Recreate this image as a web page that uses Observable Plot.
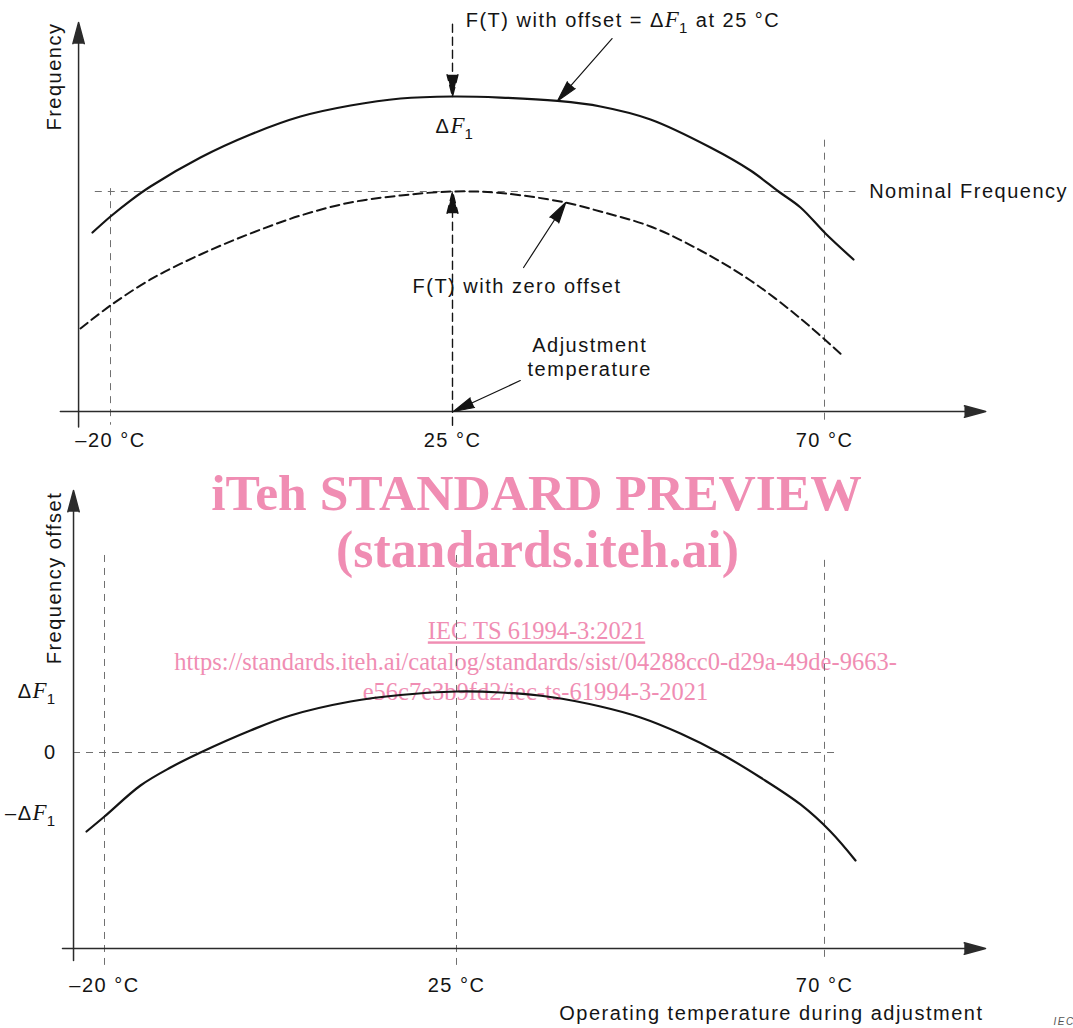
<!DOCTYPE html>
<html><head><meta charset="utf-8">
<script src="https://cdn.jsdelivr.net/npm/d3@7"></script>
<script src="https://cdn.jsdelivr.net/npm/@observablehq/plot@0.6"></script>
<style>
html,body{margin:0;padding:0;background:#fff;}
#chart svg{display:block;}
</style></head><body><div id="chart"></div>
<script>
// ---------------- data ----------------
const tickTemps = [-20, 25, 70];
const tickLabels = ["\u201320 \u00B0C", "25 \u00B0C", "70 \u00B0C"];

// upper panel: frequency relative to nominal, in units of ΔF1
const offsetTemps = [-22.37, -20, -17.37, -14.74, -8.16, -1.58, 5.0, 11.58, 18.16, 25, 30.81, 37.70, 42.90, 48.95, 56.21, 61.05, 64.44, 67.10, 70.12, 73.51];
const offsetFreq  = [-0.432, -0.263, -0.095, 0.053, 0.358, 0.600, 0.789, 0.905, 0.979, 1.0, 0.989, 0.953, 0.895, 0.758, 0.463, 0.221, 0.0, -0.168, -0.442, -0.716];
const zeroTemps   = [-23.95, -20, -14.74, -8.16, -1.58, 5.0, 11.58, 18.16, 25, 30.81, 38.67, 42.90, 48.95, 55.0, 61.05, 67.10, 72.30];
const zeroFreq    = [-1.442, -1.200, -0.926, -0.663, -0.442, -0.253, -0.116, -0.042, 0, -0.016, -0.116, -0.211, -0.368, -0.621, -0.937, -1.337, -1.737];

// lower panel: frequency offset vs operating temperature, in units of ΔF1
const opTemps  = [-22.30, -20, -15.40, -11.56, -7.73, -1.34, 3.78, 11.45, 17.84, 25, 30.38, 36.49, 42.61, 47.50, 52.39, 57.28, 62.17, 67.07, 70.73, 73.79];
const opOffset = [-1.295, -1.049, -0.541, -0.246, 0.0, 0.361, 0.607, 0.836, 0.943, 1.0, 0.984, 0.910, 0.754, 0.574, 0.311, -0.016, -0.410, -0.852, -1.295, -1.770];
const offsetTicks = [-1, 0, 1];
const offsetTickLabels = ["\u2013\u0394F_1", "0", "\u0394F_1"];

// ---------------- styling ----------------
const INK = "#141414";
const AXIS = "#2b2b2b";
const GUIDE = "#707070";
const PINK = "#f08db3";
const SANS = "'Liberation Sans', Arial, Helvetica, sans-serif";
const SERIF = "'Liberation Serif', 'Times New Roman', serif";
const svgStyle = {fontFamily: SANS, fontSize: "20px", letterSpacing: "1.5px", color: INK, background: "white", overflow: "visible"};
const guide = {stroke: GUIDE, strokeWidth: 1, strokeDasharray: "7,6"};
const axisArrow = {x1: "x1", y1: "y1", x2: "x2", y2: "y2", stroke: AXIS, fill: AXIS, strokeWidth: 1.5, headLength: 22, headAngle: 30};
const leader = {x1: "x1", y1: "y1", x2: "x2", y2: "y2", stroke: INK, fill: INK, strokeWidth: 1.2, headLength: 27, headAngle: 28};
const rows = (xs, ys) => xs.map((x, i) => ({x, y: ys[i]}));

// ---------------- upper panel ----------------
const topPlot = Plot.plot({
  width: 1073, height: 455,
  marginTop: 0, marginRight: 0, marginBottom: 44, marginLeft: 78,
  x: {type: "linear", domain: [-20, 25, 70], range: [110, 452, 824], axis: null},
  y: {type: "linear", domain: [0, 1], range: [191, 96], axis: null},
  style: svgStyle,
  marks: [
    Plot.ruleY([0], {x1: -22.0, x2: 73.8, ...guide}),
    Plot.ruleX([-20], {y1: 0.03, y2: -2.46, ...guide}),
    Plot.ruleX([70], {y1: 0.54, y2: -2.46, ...guide}),
    Plot.line(rows(zeroTemps, zeroFreq), {x: "x", y: "y", curve: "catmull-rom", stroke: INK, strokeWidth: 2, strokeDasharray: "9,5"}),
    Plot.line(rows(offsetTemps, offsetFreq), {x: "x", y: "y", curve: "catmull-rom", stroke: INK, strokeWidth: 2.2}),
    // axes
    Plot.arrow([{x1: -26.6, y1: -2.316, x2: 89.5, y2: -2.316}], axisArrow),
    Plot.arrow([{x1: -24.2, y1: -2.48, x2: -24.2, y2: 1.78}], axisArrow),
    Plot.axisX(tickTemps, {anchor: "bottom", tickSize: 0, tickPadding: 21, tickFormat: d => tickLabels[tickTemps.indexOf(d)], label: null}),
    // adjustment-temperature markers
    Plot.arrow([{x1: 25, y1: -2.46, x2: 25, y2: 0}], {...leader, strokeWidth: 1.4, headLength: 24, strokeDasharray: "8,5"}),
    Plot.arrow([{x1: 25, y1: 1.76, x2: 25, y2: 1.0}], {...leader, strokeWidth: 1.4, headLength: 24, strokeDasharray: "8,5"}),
    // leaders
    Plot.arrow([{x1: 44.3, y1: 1.61, x2: 37.7, y2: 0.953}], leader),
    Plot.arrow([{x1: 33.6, y1: -0.80, x2: 38.7, y2: -0.116}], leader),
    Plot.arrow([{x1: 33.2, y1: -1.99, x2: 25.1, y2: -2.316}], leader),
    // labels
    Plot.text(["Frequency"], {x: -27.4, y: 1.21, text: d => d, rotate: -90, textAnchor: "middle", lineAnchor: "middle"}),
    Plot.text(["F(T) with offset = \u0394F_1 at 25 \u00B0C"], {x: 26.6, y: 1.795, text: d => d, textAnchor: "start", lineAnchor: "middle"}),
    Plot.text(["\u0394F_1"], {x: 25.3, y: 0.684, text: d => d, textAnchor: "middle", lineAnchor: "middle"}),
    Plot.text(["Nominal Frequency"], {x: 75.4, y: 0, text: d => d, textAnchor: "start", lineAnchor: "middle"}),
    Plot.text(["F(T) with zero offset"], {x: 32.8, y: -1.0, text: d => d, textAnchor: "middle", lineAnchor: "middle"}),
    Plot.text(["Adjustment\ntemperature"], {x: 41.6, y: -1.737, text: d => d, textAnchor: "middle", lineAnchor: "middle", lineHeight: 1.2})
  ]
});

// ---------------- lower panel ----------------
const botPlot = Plot.plot({
  width: 1073, height: 573,
  marginTop: 0, marginRight: 0, marginBottom: 80, marginLeft: 73,
  x: {type: "linear", domain: [-20, 25, 70], range: [104, 456, 824], axis: null},
  y: {type: "linear", domain: [0, 1], range: [297, 236], axis: null},
  style: svgStyle,
  marks: [
    // watermark
    Plot.text(["iTeh STANDARD PREVIEW"], {frameAnchor: "top-left", dx: 463, dy: 38, text: d => d, fontFamily: SERIF, fontWeight: "bold", fontSize: 51.6, fill: PINK, textAnchor: "middle", lineAnchor: "middle"}),
    Plot.text(["(standards.iteh.ai)"], {frameAnchor: "top-left", dx: 464, dy: 95, text: d => d, fontFamily: SERIF, fontWeight: "bold", fontSize: 51.8, fill: PINK, textAnchor: "middle", lineAnchor: "middle"}),
    Plot.text(["IEC TS 61994-3:2021"], {frameAnchor: "top-left", dx: 463, dy: 176, text: d => d, fontFamily: SERIF, fontSize: 24.5, fill: PINK, textAnchor: "middle", lineAnchor: "middle"}),
    Plot.text(["https://standards.iteh.ai/catalog/standards/sist/04288cc0-d29a-49de-9663-"], {frameAnchor: "top-left", dx: 462, dy: 207, text: d => d, fontFamily: SERIF, fontSize: 24.5, fill: PINK, textAnchor: "middle", lineAnchor: "middle"}),
    Plot.text(["e56c7e3b9fd2/iec-ts-61994-3-2021"], {frameAnchor: "top-left", dx: 462, dy: 237, text: d => d, fontFamily: SERIF, fontSize: 24.5, fill: PINK, textAnchor: "middle", lineAnchor: "middle"}),
    // guides
    Plot.ruleY([0], {x1: -23.96, x2: 71.96, ...guide}),
    Plot.ruleX([-20, 25], {y1: 3.23, y2: -3.49, ...guide}),
    Plot.ruleX([70], {y1: 3.15, y2: -3.40, ...guide}),
    Plot.line(rows(opTemps, opOffset), {x: "x", y: "y", curve: "catmull-rom", stroke: INK, strokeWidth: 2.2}),
    // axes
    Plot.arrow([{x1: -25.37, y1: -3.213, x2: 89.69, y2: -3.213}], axisArrow),
    Plot.arrow([{x1: -23.96, y1: -3.41, x2: -23.96, y2: 4.295}], axisArrow),
    Plot.axisX(tickTemps, {anchor: "bottom", tickSize: 0, tickPadding: 29, tickFormat: d => tickLabels[tickTemps.indexOf(d)], label: null}),
    Plot.axisY(offsetTicks, {anchor: "left", tickSize: 0, tickPadding: 17, tickFormat: d => offsetTickLabels[offsetTicks.indexOf(d)], label: null}),
    Plot.text(["Frequency offset"], {x: -26.4, y: 2.86, text: d => d, rotate: -90, textAnchor: "middle", lineAnchor: "middle"}),
    Plot.text(["Operating temperature during adjustment"], {x: 89.44, y: -4.279, text: d => d, textAnchor: "end", lineAnchor: "middle"}),
    Plot.text(["IEC"], {frameAnchor: "top-left", dx: 980, dy: 566, text: d => d, fontSize: 10, fontStyle: "italic", fill: "#555", textAnchor: "start", lineAnchor: "middle"})
  ]
});

// ---------------- rich text (ΔF with italic F and subscript 1) ----------------
const NS = "http://www.w3.org/2000/svg";
function richify(svg) {
  svg.querySelectorAll("text").forEach(el => {
    const g = el.closest("g");
    if (g && g.getAttribute("fill") === PINK) {
      el.style.letterSpacing = "0px";
      if (el.textContent.startsWith("IEC TS")) el.style.textDecoration = "underline";
    }
    if (el.querySelector("tspan")) return;
    const s = el.textContent;
    if (!s.includes("\u0394F_1")) return;
    const parts = s.split("\u0394F_1");
    el.textContent = "";
    const add = (txt, attrs = {}) => {
      const t = document.createElementNS(NS, "tspan");
      for (const k in attrs) t.setAttribute(k, attrs[k]);
      t.textContent = txt;
      el.appendChild(t);
    };
    let shifted = false;
    parts.forEach((p, i) => {
      if (p) { add(p, shifted ? {dy: -6} : {}); shifted = false; }
      if (i < parts.length - 1) {
        add("\u0394");
        add("F", {"font-family": SERIF, "font-style": "italic", "font-size": "23px", "letter-spacing": "0px"});
        add("1", {dy: 6, "font-size": "15px"});
        shifted = true;
      }
    });
  });
}
richify(topPlot);
richify(botPlot);
document.getElementById("chart").append(topPlot, botPlot);
</script></body></html>
